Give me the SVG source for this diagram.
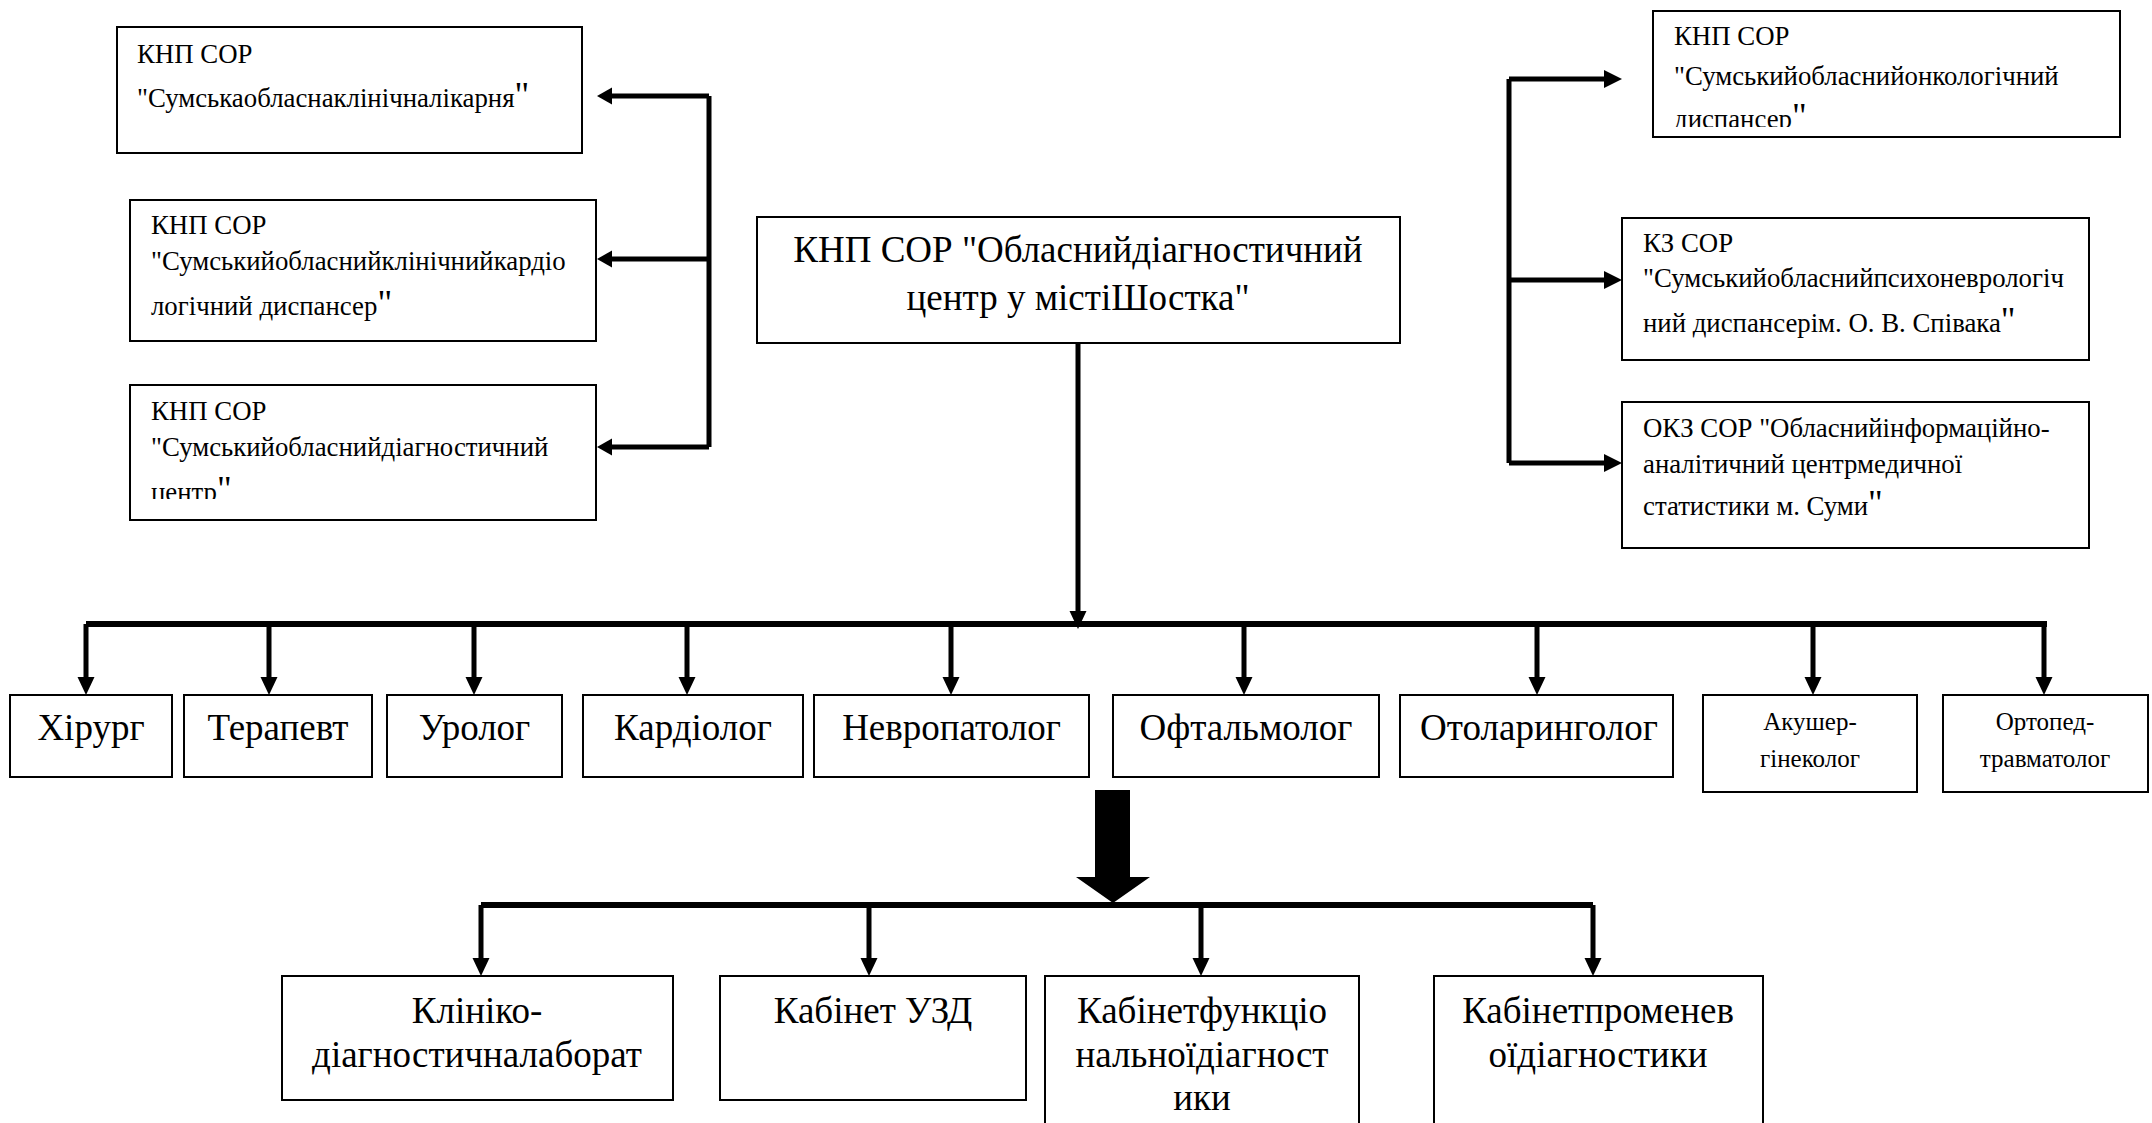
<svg xmlns="http://www.w3.org/2000/svg" width="2152" height="1123" viewBox="0 0 2152 1123" font-family="Liberation Serif, Times New Roman, serif">
<style>
.box{fill:#fff;stroke:#000;stroke-width:2}
.s{font-size:26.8px}
.b{font-size:37px}
.m{font-size:25px}
.q{font-size:36px}
.c{text-anchor:middle}
.ln{stroke:#000;stroke-width:5;fill:none}
.bus{stroke:#000;stroke-width:6;fill:none}
.ah{fill:#000}
</style>
<defs>
<clipPath id="clipL3"><rect x="130" y="385" width="466" height="114"/></clipPath>
<clipPath id="clipR1"><rect x="1653" y="11" width="467" height="116"/></clipPath>
</defs>
<rect width="2152" height="1123" fill="#fff"/>

<g id="connectors">
<path class="ln" d="M709,96 V447 M709,96 H610 M709,259 H610 M709,447 H610"/>
<polygon class="ah" points="597,96 612,87.5 612,104.5"/>
<polygon class="ah" points="597,259 612,250.5 612,267.5"/>
<polygon class="ah" points="597,447 612,438.5 612,455.5"/>
<path class="ln" d="M1509,79 V463 M1509,79 H1606 M1509,280 H1606 M1509,463 H1606"/>
<polygon class="ah" points="1622,79 1604,70 1604,88"/>
<polygon class="ah" points="1622,280 1604,271 1604,289"/>
<polygon class="ah" points="1622,463 1604,454 1604,472"/>
<path class="ln" d="M1078,343 V612"/>
<polygon class="ah" points="1078,629 1069.5,611 1086.5,611"/>
<path class="bus" d="M86,624 H2047"/>
<path class="ln" d="M86,624 V680 M269,624 V680 M474,624 V680 M687,624 V680 M951,624 V680 M1244,624 V680 M1537,624 V680 M1813,624 V680 M2044,624 V680"/>
<g class="ah">
<polygon points="86,695 77.5,677 94.5,677"/>
<polygon points="269,695 260.5,677 277.5,677"/>
<polygon points="474,695 465.5,677 482.5,677"/>
<polygon points="687,695 678.5,677 695.5,677"/>
<polygon points="951,695 942.5,677 959.5,677"/>
<polygon points="1244,695 1235.5,677 1252.5,677"/>
<polygon points="1537,695 1528.5,677 1545.5,677"/>
<polygon points="1813,695 1804.5,677 1821.5,677"/>
<polygon points="2044,695 2035.5,677 2052.5,677"/>
</g>
<polygon class="ah" points="1095,790 1130,790 1130,877 1150,877 1113,903 1076,877 1095,877"/>
<path class="bus" d="M481,905 H1593"/>
<path class="ln" d="M481,905 V960 M869,905 V960 M1201,905 V960 M1593,905 V960"/>
<g class="ah">
<polygon points="481,976 472.5,958 489.5,958"/>
<polygon points="869,976 860.5,958 877.5,958"/>
<polygon points="1201,976 1192.5,958 1209.5,958"/>
<polygon points="1593,976 1584.5,958 1601.5,958"/>
</g>
</g>

<g id="L1">
<rect class="box" x="117" y="27" width="465" height="126"/>
<text class="s" x="137" y="63">КНП СОР</text>
<text class="s" x="137" y="107">"Сумськаобласнаклінічналікарня<tspan class="q">"</tspan></text>
</g>
<g id="L2">
<rect class="box" x="130" y="200" width="466" height="141"/>
<text class="s" x="151" y="234">КНП СОР</text>
<text class="s" x="151" y="270">"Сумськийобласнийклінічнийкардіо</text>
<text class="s" x="151" y="315">логічний диспансер<tspan class="q">"</tspan></text>
</g>
<g id="L3">
<rect class="box" x="130" y="385" width="466" height="135"/>
<text class="s" x="151" y="420">КНП СОР</text>
<text class="s" x="151" y="456">"Сумськийобласнийдіагностичний</text>
<g clip-path="url(#clipL3)"><text class="s" x="151" y="501">центр<tspan class="q">"</tspan></text></g>
</g>

<g id="center">
<rect class="box" x="757" y="217" width="643" height="126"/>
<text class="b c" x="1078" y="262">КНП СОР "Обласнийдіагностичний</text>
<text class="b c" x="1078" y="310">центр у містіШостка"</text>
</g>

<g id="R1">
<rect class="box" x="1653" y="11" width="467" height="126"/>
<text class="s" x="1674" y="45">КНП СОР</text>
<text class="s" x="1674" y="85">"Сумськийобласнийонкологічний</text>
<g clip-path="url(#clipR1)"><text class="s" x="1674" y="128">диспансер<tspan class="q">"</tspan></text></g>
</g>
<g id="R2">
<rect class="box" x="1622" y="218" width="467" height="142"/>
<text class="s" x="1643" y="252">КЗ СОР</text>
<text class="s" x="1643" y="287">"Сумськийобласнийпсихоневрологіч</text>
<text class="s" x="1643" y="332">ний диспансерім. О. В. Співака<tspan class="q">"</tspan></text>
</g>
<g id="R3">
<rect class="box" x="1622" y="402" width="467" height="146"/>
<text class="s" x="1643" y="437">ОКЗ СОР "Обласнийінформаційно-</text>
<text class="s" x="1643" y="473">аналітичний центрмедичної</text>
<text class="s" x="1643" y="515">статистики м. Суми<tspan class="q">"</tspan></text>
</g>

<g id="n-khirurh"><rect class="box" x="10" y="695" width="162" height="82"/><text class="b c" x="91" y="740">Хірург</text></g>
<g id="n-terapevt"><rect class="box" x="184" y="695" width="188" height="82"/><text class="b c" x="278" y="740">Терапевт</text></g>
<g id="n-uroloh"><rect class="box" x="387" y="695" width="175" height="82"/><text class="b c" x="474.5" y="740">Уролог</text></g>
<g id="n-kardioloh"><rect class="box" x="583" y="695" width="220" height="82"/><text class="b c" x="693" y="740">Кардіолог</text></g>
<g id="n-nevropatoloh"><rect class="box" x="814" y="695" width="275" height="82"/><text class="b c" x="951.5" y="740">Невропатолог</text></g>
<g id="n-oftalmoloh"><rect class="box" x="1113" y="695" width="266" height="82"/><text class="b c" x="1246" y="740">Офтальмолог</text></g>
<g id="n-otolaryngoloh"><rect class="box" x="1400" y="695" width="273" height="82"/><text class="b c" x="1539" y="740">Отоларинголог</text></g>
<g id="n-akusher"><rect class="box" x="1703" y="695" width="214" height="97"/><text class="m c" x="1810" y="730">Акушер-</text><text class="m c" x="1810" y="767">гінеколог</text></g>
<g id="n-ortoped"><rect class="box" x="1943" y="695" width="205" height="97"/><text class="m c" x="2045" y="730">Ортопед-</text><text class="m c" x="2045" y="767">травматолог</text></g>

<g id="n-lab"><rect class="box" x="282" y="976" width="391" height="124"/><text class="b c" x="477" y="1023">Клініко-</text><text class="b c" x="477" y="1067">діагностичналаборат</text></g>
<g id="n-uzd"><rect class="box" x="720" y="976" width="306" height="124"/><text class="b c" x="873" y="1023">Кабінет УЗД</text></g>
<g id="n-func"><rect class="box" x="1045" y="976" width="314" height="160"/><text class="b c" x="1202" y="1023">Кабінетфункціо</text><text class="b c" x="1202" y="1067">нальноїдіагност</text><text class="b c" x="1202" y="1110">ики</text></g>
<g id="n-promen"><rect class="box" x="1434" y="976" width="329" height="160"/><text class="b c" x="1598" y="1023">Кабінетпроменев</text><text class="b c" x="1598" y="1067">оїдіагностики</text></g>
</svg>
